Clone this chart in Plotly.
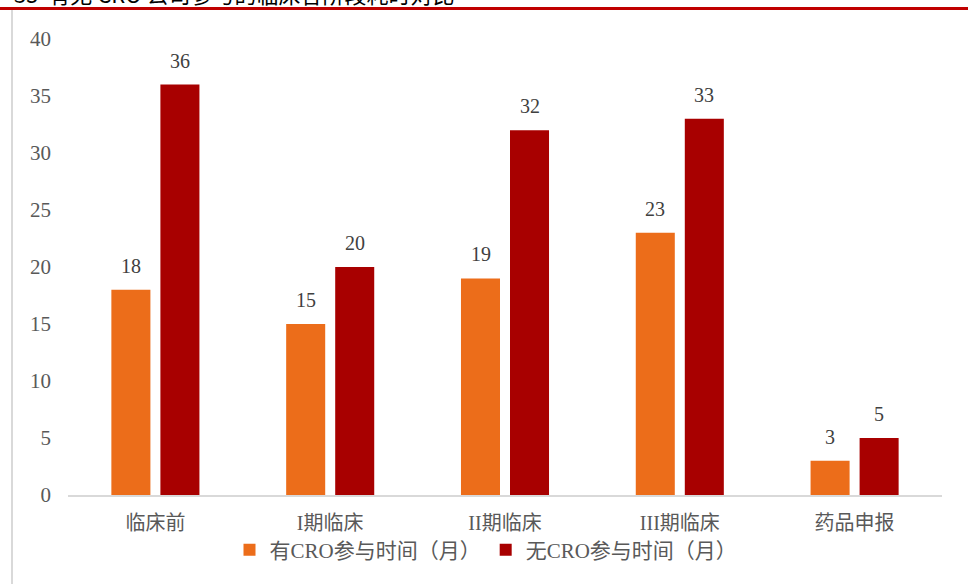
import plotly.graph_objects as go

categories = ["临床前", "I期临床", "II期临床", "III期临床", "药品申报"]
with_cro = [18, 15, 19, 23, 3]
without_cro = [36, 20, 32, 33, 5]
series_names = ["有CRO参与时间（月）", "无CRO参与时间（月）"]
colors = ["#EC6D1A", "#A80000"]
title_text = "35  有无 CRO 公司参与的临床各阶段耗时对比"

serif = "Liberation Serif, Noto Serif CJK SC, Noto Sans CJK SC, serif"
label_font = "Liberation Serif, Noto Sans CJK SC, sans-serif"

fig = go.Figure()
for name, vals, col in zip(series_names, [with_cro, without_cro], colors):
    fig.add_trace(go.Bar(x=categories, y=vals, name=name, marker_color=col,
                         marker_line_width=0))

annotations = []
for vals, shift in zip([with_cro, without_cro], [-24.5, 24.5]):
    for c, v in zip(categories, vals):
        annotations.append(dict(x=c, y=v, xref="x", yref="y", text=str(v),
                                showarrow=False, xshift=shift, yanchor="bottom", yshift=11,
                                font=dict(family=serif, size=20, color="#404040")))

W, H = 968, 584
ml, mr, mt, mb = 68, 26, 39, 89
pw, ph = W - ml - mr, H - mt - mb

def px(x):
    return (x - ml) / pw

def py(y):
    return (H - mb - y) / ph

annotations.append(dict(x=px(12), y=py(-7), xref="paper", yref="paper", text=title_text,
                        showarrow=False, xanchor="left", yanchor="middle",
                        font=dict(family="Noto Sans CJK SC", size=22, color="#000000")))

shapes = [
    dict(type="line", xref="paper", yref="paper", x0=px(0), x1=px(W), y0=py(8.5), y1=py(8.5),
         line=dict(color="#C00000", width=3)),
    dict(type="line", xref="paper", yref="paper", x0=px(12), x1=px(12), y0=py(10), y1=py(H),
         line=dict(color="#D9D9D9", width=2)),
]

fig.update_layout(
    width=W, height=H,
    margin=dict(l=ml, r=mr, t=mt, b=mb),
    paper_bgcolor="white", plot_bgcolor="white",
    barmode="group", bargap=0.439, bargroupgap=0.204,
    showlegend=True,
    legend=dict(orientation="h", x=px(486), xanchor="center", y=py(550), yanchor="middle",
                bgcolor="rgba(0,0,0,0)",
                font=dict(family=label_font, size=21, color="#595959"),
                itemwidth=30, traceorder="normal"),
    xaxis=dict(showline=True, linecolor="#D9D9D9", linewidth=2, showgrid=False,
               ticks="", tickfont=dict(family=label_font, size=20, color="#595959"),
               ticklabelstandoff=9),
    yaxis=dict(range=[0, 40], dtick=5, showgrid=False, showline=False, zeroline=False,
               ticks="", tickfont=dict(family=serif, size=21, color="#595959"),
               ticklabelstandoff=16),
    annotations=annotations,
    shapes=shapes,
)

fig.write_html("out.html")
